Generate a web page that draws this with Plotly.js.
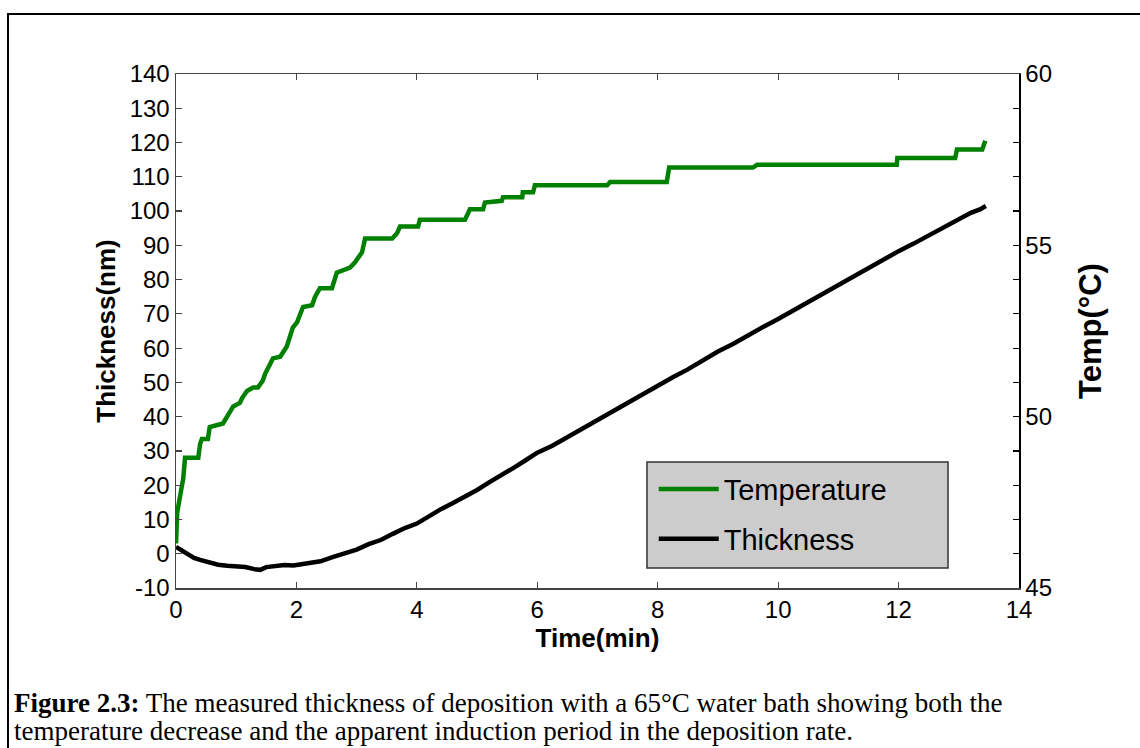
<!DOCTYPE html>
<html>
<head>
<meta charset="utf-8">
<script src="https://cdn.plot.ly/plotly-3.0.1.min.js"></script>
<style>
html,body{margin:0;padding:0;background:#fff;}
#chart{width:1140px;height:748px;}
</style>
</head>
<body>
<div id="chart"></div>
<script>
// Temperature (°C, right axis) vs time (min)
const tempTime = [0.00,0.02,0.07,0.12,0.15,0.37,0.40,0.43,0.53,0.56,0.78,0.86,0.95,1.06,1.10,1.18,1.28,1.36,1.44,1.48,1.61,1.73,1.84,1.94,2.01,2.11,2.26,2.31,2.39,2.59,2.67,2.89,2.97,3.09,3.14,3.59,3.67,3.72,4.02,4.05,4.80,4.88,5.10,5.13,5.41,5.43,5.75,5.76,5.93,5.96,7.16,7.21,8.15,8.19,9.58,9.65,11.97,11.98,12.94,12.97,13.39,13.44];
const tempValues = [46.3,47.2,47.7,48.2,48.8,48.8,49.2,49.35,49.35,49.7,49.8,50.05,50.3,50.4,50.55,50.75,50.85,50.85,51.05,51.25,51.7,51.75,52.05,52.6,52.75,53.2,53.25,53.5,53.75,53.75,54.2,54.35,54.5,54.8,55.2,55.2,55.35,55.55,55.55,55.75,55.75,56.05,56.05,56.25,56.3,56.4,56.4,56.55,56.55,56.75,56.75,56.85,56.85,57.27,57.27,57.35,57.35,57.55,57.55,57.8,57.8,58.05];

// Thickness (nm, left axis) vs time (min)
const thickTime = [0.00,0.05,0.17,0.30,0.40,0.55,0.70,0.85,1.00,1.15,1.30,1.40,1.50,1.65,1.80,1.95,2.10,2.25,2.40,2.60,2.80,3.00,3.20,3.40,3.60,3.80,4.00,4.20,4.40,4.60,4.80,5.00,5.20,5.40,5.60,5.80,6.00,6.25,6.50,6.75,7.00,7.25,7.50,7.75,8.00,8.25,8.50,8.75,9.00,9.25,9.50,9.75,10.00,10.25,10.50,10.75,11.00,11.25,11.50,11.75,12.00,12.25,12.50,12.75,13.00,13.20,13.35,13.45];
const thickValues = [2.0,1.5,0.2,-1.2,-1.8,-2.6,-3.2,-3.5,-3.7,-3.9,-4.5,-4.7,-3.9,-3.6,-3.3,-3.4,-3.1,-2.6,-2.2,-1.0,0.0,1.2,2.8,4.0,5.8,7.5,8.8,11.0,13.0,14.8,16.6,18.6,20.8,22.8,25.0,27.2,29.5,31.5,34.0,36.5,39.2,41.5,44.0,46.5,49.0,51.5,53.8,56.5,59.0,61.2,63.8,66.2,68.5,71.0,73.5,76.0,78.5,81.0,83.5,86.0,88.3,90.5,92.8,95.0,97.5,99.5,100.5,101.5];

// Tick labels
const yTickVals = [-10,0,10,20,30,40,50,60,70,80,90,100,110,120,130,140];
const yTickText = ["-10","0","10","20","30","40","50","60","70","80","90","100","110","120","130","140"];

const seriesNames = ["Temperature", "Thickness"];
const xTitle = "Time(min)";
const yTitle = "Thickness(nm)";
const y2Title = "Temp(°C)";
const captionLine1 = "<b>Figure 2.3:</b> The measured thickness of deposition with a 65°C water bath showing both the";
const captionLine2 = "temperature decrease and the apparent induction period in the deposition rate.";

const axisColor = "#444444";
const sans = "Liberation Sans, Arial, sans-serif";
const tickFont = {family: sans, size: 24, color: "#000"};
const titleFont = {family: sans, size: 26, color: "#000", weight: "bold"};
const captionFont = {family: "Liberation Serif, Times New Roman, serif", size: 27, color: "#000"};

const traces = [
  {
    x: tempTime, y: tempValues, name: seriesNames[0], yaxis: "y2",
    type: "scatter", mode: "lines", legendgroup: "a",
    line: {color: "#008000", width: 4.5}
  },
  {
    x: thickTime, y: thickValues, name: seriesNames[1], yaxis: "y",
    type: "scatter", mode: "lines", legendgroup: "b",
    line: {color: "#000000", width: 4.5}
  }
];

const layout = {
  width: 1140, height: 748,
  margin: {l: 176, r: 121, t: 74, b: 160},
  paper_bgcolor: "#ffffff", plot_bgcolor: "#ffffff",
  font: {family: sans, color: "#000"},
  showlegend: true,
  legend: {
    x: 0.5667, y: 0.242, xanchor: "left", yanchor: "top",
    bgcolor: "rgba(0,0,0,0)", borderwidth: 0,
    font: {family: sans, size: 29, color: "#000"},
    itemwidth: 60,
    traceorder: "grouped", tracegroupgap: 9
  },
  xaxis: {
    range: [0, 14], dtick: 2, tick0: 0,
    showgrid: false, zeroline: false,
    showline: true, linecolor: axisColor, linewidth: 1.5, mirror: "ticks",
    ticks: "inside", ticklen: 6, tickcolor: axisColor, tickwidth: 1.2,
    tickfont: tickFont,
    title: {text: xTitle, font: titleFont, standoff: 1}
  },
  yaxis: {
    range: [-10, 140], tickmode: "array", tickvals: yTickVals, ticktext: yTickText,
    showgrid: false, zeroline: false,
    showline: true, linecolor: axisColor, linewidth: 1.5,
    ticks: "inside", ticklen: 6, tickcolor: axisColor, tickwidth: 1.2,
    tickfont: tickFont,
    title: {text: yTitle, font: titleFont, standoff: 6}
  },
  yaxis2: {
    range: [45, 60], dtick: 5, tick0: 45,
    overlaying: "y", side: "right",
    showgrid: false, zeroline: false,
    showline: true, linecolor: "#000", linewidth: 1.5,
    ticks: "inside", ticklen: 6, tickcolor: "#000", tickwidth: 1.2,
    minor: {dtick: 1, ticks: "inside", ticklen: 6, tickcolor: "#000", tickwidth: 1.2, showgrid: false},
    tickfont: tickFont,
    title: {text: y2Title, font: {family: sans, size: 31, color: "#000", weight: "bold"}, standoff: 28}
  },
  shapes: [
    {type: "rect", xref: "paper", yref: "paper",
     x0: -0.1993, x1: 1.3, y0: -0.4, y1: 1.1167,
     line: {color: "#000", width: 2}, fillcolor: "rgba(0,0,0,0)", layer: "below"},
    {type: "rect", xref: "paper", yref: "paper",
     x0: 0.5587, x1: 0.9158, y0: 0.0389, y1: 0.2451,
     line: {color: "#333333", width: 1.5}, fillcolor: "#cccccc", layer: "above"}
  ],
  annotations: [
    {xref: "paper", yref: "paper", x: -0.194, y: -0.2237, xanchor: "left", yanchor: "middle",
     showarrow: false, align: "left", text: captionLine1, font: captionFont},
    {xref: "paper", yref: "paper", x: -0.194, y: -0.2782, xanchor: "left", yanchor: "middle",
     showarrow: false, align: "left", text: captionLine2, font: captionFont}
  ]
};

Plotly.newPlot("chart", traces, layout, {displayModeBar: false, staticPlot: true});
</script>
</body>
</html>
